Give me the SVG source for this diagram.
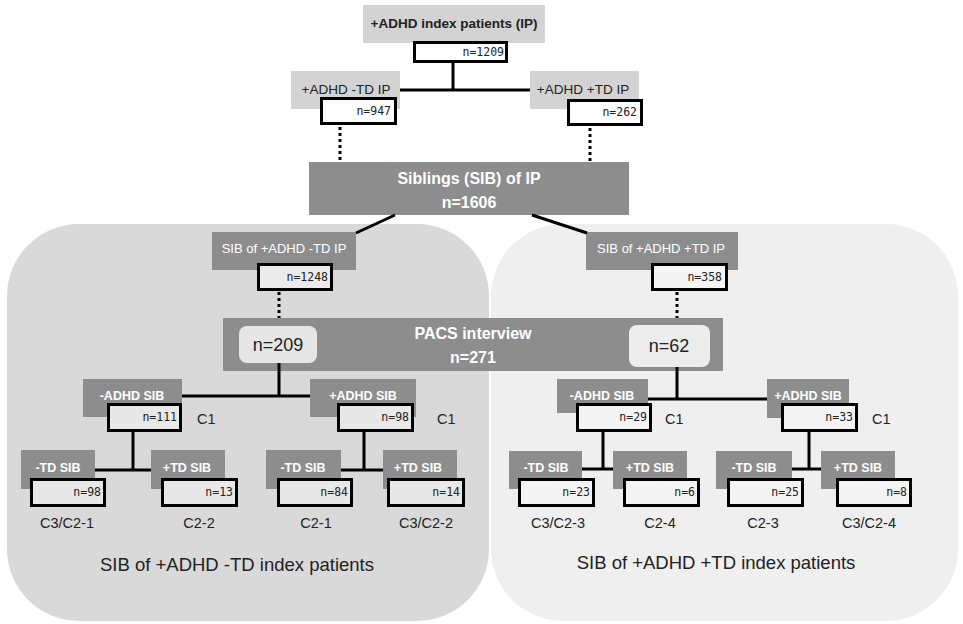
<svg xmlns="http://www.w3.org/2000/svg" width="963" height="624" viewBox="0 0 963 624">
<style>
.lt{fill:#d3d3d3}
.dk{fill:#8d8d8d}
.nb{stroke:#000;stroke-width:3}
.nt{font-family:"DejaVu Sans Mono","Liberation Mono",monospace;font-size:11.5px;fill:#222;text-anchor:end}
.lbl{font-family:"Liberation Sans",Arial,sans-serif;text-anchor:middle}
.wb{fill:#fff;font-weight:bold;font-size:12.5px}
.big{fill:#fff;font-weight:bold;font-size:16px}
.ck{font-family:"Liberation Sans",Arial,sans-serif;font-size:14.5px;fill:#222}
.cl{font-family:"Liberation Sans",Arial,sans-serif;font-size:14.5px;fill:#222;text-anchor:middle}
.con{stroke:#000;stroke-width:3;fill:none}
.dot{stroke:#000;stroke-width:3;fill:none;stroke-dasharray:3 3}
</style>
<rect width="963" height="624" fill="#fff"/>
<g id="panels">
<rect x="491" y="224" width="467" height="397" rx="72" fill="#efefef"/>
<rect x="7" y="224" width="482" height="397" rx="72" fill="#d9d9d9"/>
<text class="lbl" x="237" y="571" font-size="18.5" fill="#222">SIB of +ADHD -TD index patients</text>
<text class="lbl" x="716" y="569" font-size="18.5" fill="#222">SIB of +ADHD +TD index patients</text>
</g>
<g id="ip">
<rect class="lt" x="363" y="5" width="182" height="38"/>
<text class="lbl" x="454" y="28" font-size="13.5" font-weight="bold" fill="#222">+ADHD index patients (IP)</text>
<rect class="nb" x="414.5" y="42.5" width="92" height="19" fill="#fff"/>
<text class="nt" x="504" y="56">n=1209</text>
</g>
<g id="ip-td-neg">
<rect class="lt" x="291" y="71" width="109" height="38"/>
<text class="lbl" x="346" y="94" font-size="13.5" fill="#222">+ADHD -TD IP</text>
<rect class="nb" x="321.5" y="98.5" width="74" height="25" fill="#fff"/>
<text class="nt" x="391" y="115">n=947</text>
</g>
<g id="ip-td-pos">
<rect class="lt" x="530" y="71" width="109" height="38"/>
<text class="lbl" x="583" y="94" font-size="13.5" fill="#222">+ADHD +TD IP</text>
<rect class="nb" x="568.5" y="100.5" width="73" height="24" fill="#fff"/>
<text class="nt" x="637" y="116">n=262</text>
</g>
<g id="siblings">
<rect class="dk" x="309" y="162" width="320" height="53"/>
<text class="lbl big" x="469" y="184">Siblings (SIB) of IP</text>
<text class="lbl big" x="469" y="208">n=1606</text>
</g>
<g id="sib-td-neg">
<rect class="dk" x="212" y="232" width="144" height="38"/>
<text class="lbl" x="284" y="253" font-size="13" fill="#fff">SIB of +ADHD -TD IP</text>
<rect class="nb" x="258.5" y="264.5" width="73" height="25" fill="#ebebeb"/>
<text class="nt" x="328" y="281">n=1248</text>
</g>
<g id="sib-td-pos">
<rect class="dk" x="586" y="232" width="152" height="38"/>
<text class="lbl" x="661" y="253" font-size="13" fill="#fff">SIB of +ADHD +TD IP</text>
<rect class="nb" x="652.5" y="264.5" width="74" height="25" fill="#f5f5f5"/>
<text class="nt" x="722" y="281">n=358</text>
</g>
<g id="pacs">
<rect class="dk" x="223" y="318" width="500" height="53"/>
<text class="lbl big" x="473" y="339">PACS interview</text>
<text class="lbl big" x="473" y="363">n=271</text>
<rect x="239" y="326" width="78" height="37" rx="8" fill="#e6e6e6"/>
<text class="lbl" x="278" y="351" font-size="18" fill="#222">n=209</text>
<rect x="629" y="325" width="81" height="42" rx="8" fill="#ececec"/>
<text class="lbl" x="669" y="352" font-size="18" fill="#222">n=62</text>
</g>
<g id="l-adhd-neg">
<rect class="dk" x="83" y="379" width="99" height="38"/>
<text class="lbl wb" x="132" y="400">-ADHD SIB</text>
<rect class="nb" x="108.5" y="404.5" width="72" height="26" fill="#e8e8e8"/>
<text class="nt" x="177" y="421">n=111</text>
<text class="ck" x="197" y="424">C1</text>
</g>
<g id="l-adhd-pos">
<rect class="dk" x="310" y="379" width="106" height="38"/>
<text class="lbl wb" x="363" y="400">+ADHD SIB</text>
<rect class="nb" x="338.5" y="404.5" width="74" height="26" fill="#e8e8e8"/>
<text class="nt" x="409" y="421">n=98</text>
<text class="ck" x="437" y="424">C1</text>
</g>
<g id="l-a-td-neg">
<rect class="dk" x="21" y="450" width="74" height="39"/>
<text class="lbl wb" x="58" y="472">-TD SIB</text>
<rect class="nb" x="31.5" y="479.5" width="73" height="26" fill="#e8e8e8"/>
<text class="nt" x="101" y="496">n=98</text>
<text class="cl" x="67" y="528">C3/C2-1</text>
</g>
<g id="l-a-td-pos">
<rect class="dk" x="151" y="450" width="74" height="39"/>
<text class="lbl wb" x="187" y="472">+TD SIB</text>
<rect class="nb" x="162.5" y="479.5" width="74" height="26" fill="#e8e8e8"/>
<text class="nt" x="233" y="496">n=13</text>
<text class="cl" x="199" y="528">C2-2</text>
</g>
<g id="l-b-td-neg">
<rect class="dk" x="266" y="450" width="75" height="39"/>
<text class="lbl wb" x="303" y="472">-TD SIB</text>
<rect class="nb" x="278.5" y="479.5" width="73" height="26" fill="#e8e8e8"/>
<text class="nt" x="348" y="496">n=84</text>
<text class="cl" x="316" y="528">C2-1</text>
</g>
<g id="l-b-td-pos">
<rect class="dk" x="383" y="450" width="74" height="39"/>
<text class="lbl wb" x="418" y="472">+TD SIB</text>
<rect class="nb" x="388.5" y="479.5" width="75" height="26" fill="#e8e8e8"/>
<text class="nt" x="460" y="496">n=14</text>
<text class="cl" x="426" y="528">C3/C2-2</text>
</g>
<g id="r-adhd-neg">
<rect class="dk" x="557" y="379" width="91" height="34"/>
<text class="lbl wb" x="602" y="400">-ADHD SIB</text>
<rect class="nb" x="577.5" y="404.5" width="73" height="26" fill="#f4f4f4"/>
<text class="nt" x="647" y="421">n=29</text>
<text class="ck" x="665" y="424">C1</text>
</g>
<g id="r-adhd-pos">
<rect class="dk" x="767" y="379" width="82" height="39"/>
<text class="lbl wb" x="808" y="400">+ADHD SIB</text>
<rect class="nb" x="782.5" y="404.5" width="74" height="26" fill="#f4f4f4"/>
<text class="nt" x="853" y="421">n=33</text>
<text class="ck" x="872" y="424">C1</text>
</g>
<g id="r-a-td-neg">
<rect class="dk" x="509" y="451" width="73" height="38"/>
<text class="lbl wb" x="546" y="472">-TD SIB</text>
<rect class="nb" x="519.5" y="479.5" width="74" height="26" fill="#f4f4f4"/>
<text class="nt" x="590" y="496">n=23</text>
<text class="cl" x="558" y="528">C3/C2-3</text>
</g>
<g id="r-a-td-pos">
<rect class="dk" x="613" y="451" width="74" height="38"/>
<text class="lbl wb" x="650" y="472">+TD SIB</text>
<rect class="nb" x="624.5" y="479.5" width="74" height="26" fill="#f4f4f4"/>
<text class="nt" x="695" y="496">n=6</text>
<text class="cl" x="660" y="528">C2-4</text>
</g>
<g id="r-b-td-neg">
<rect class="dk" x="716" y="451" width="76" height="38"/>
<text class="lbl wb" x="754" y="472">-TD SIB</text>
<rect class="nb" x="728.5" y="479.5" width="74" height="26" fill="#f4f4f4"/>
<text class="nt" x="799" y="496">n=25</text>
<text class="cl" x="763" y="528">C2-3</text>
</g>
<g id="r-b-td-pos">
<rect class="dk" x="821" y="451" width="74" height="38"/>
<text class="lbl wb" x="858" y="472">+TD SIB</text>
<rect class="nb" x="837.5" y="479.5" width="73" height="26" fill="#f4f4f4"/>
<text class="nt" x="907" y="496">n=8</text>
<text class="cl" x="869" y="528">C3/C2-4</text>
</g>
<g id="connectors">
<path class="con" d="M453 63V90M400 90H530"/>
<path class="dot" d="M340 127V162M590 128V162"/>
<path class="con" d="M395 215L356 233M532 215L587 233"/>
<path class="dot" d="M279 292V318M677 292V318"/>
<path class="con" d="M279 363V396M182 396H310"/>
<path class="con" d="M133 432V470M95 470H151M364 432V470M341 470H383"/>
<path class="con" d="M677 367V399M648 399H767"/>
<path class="con" d="M603 432V469M582 469H613M809 432V469M792 469H821"/>
</g>
</svg>
